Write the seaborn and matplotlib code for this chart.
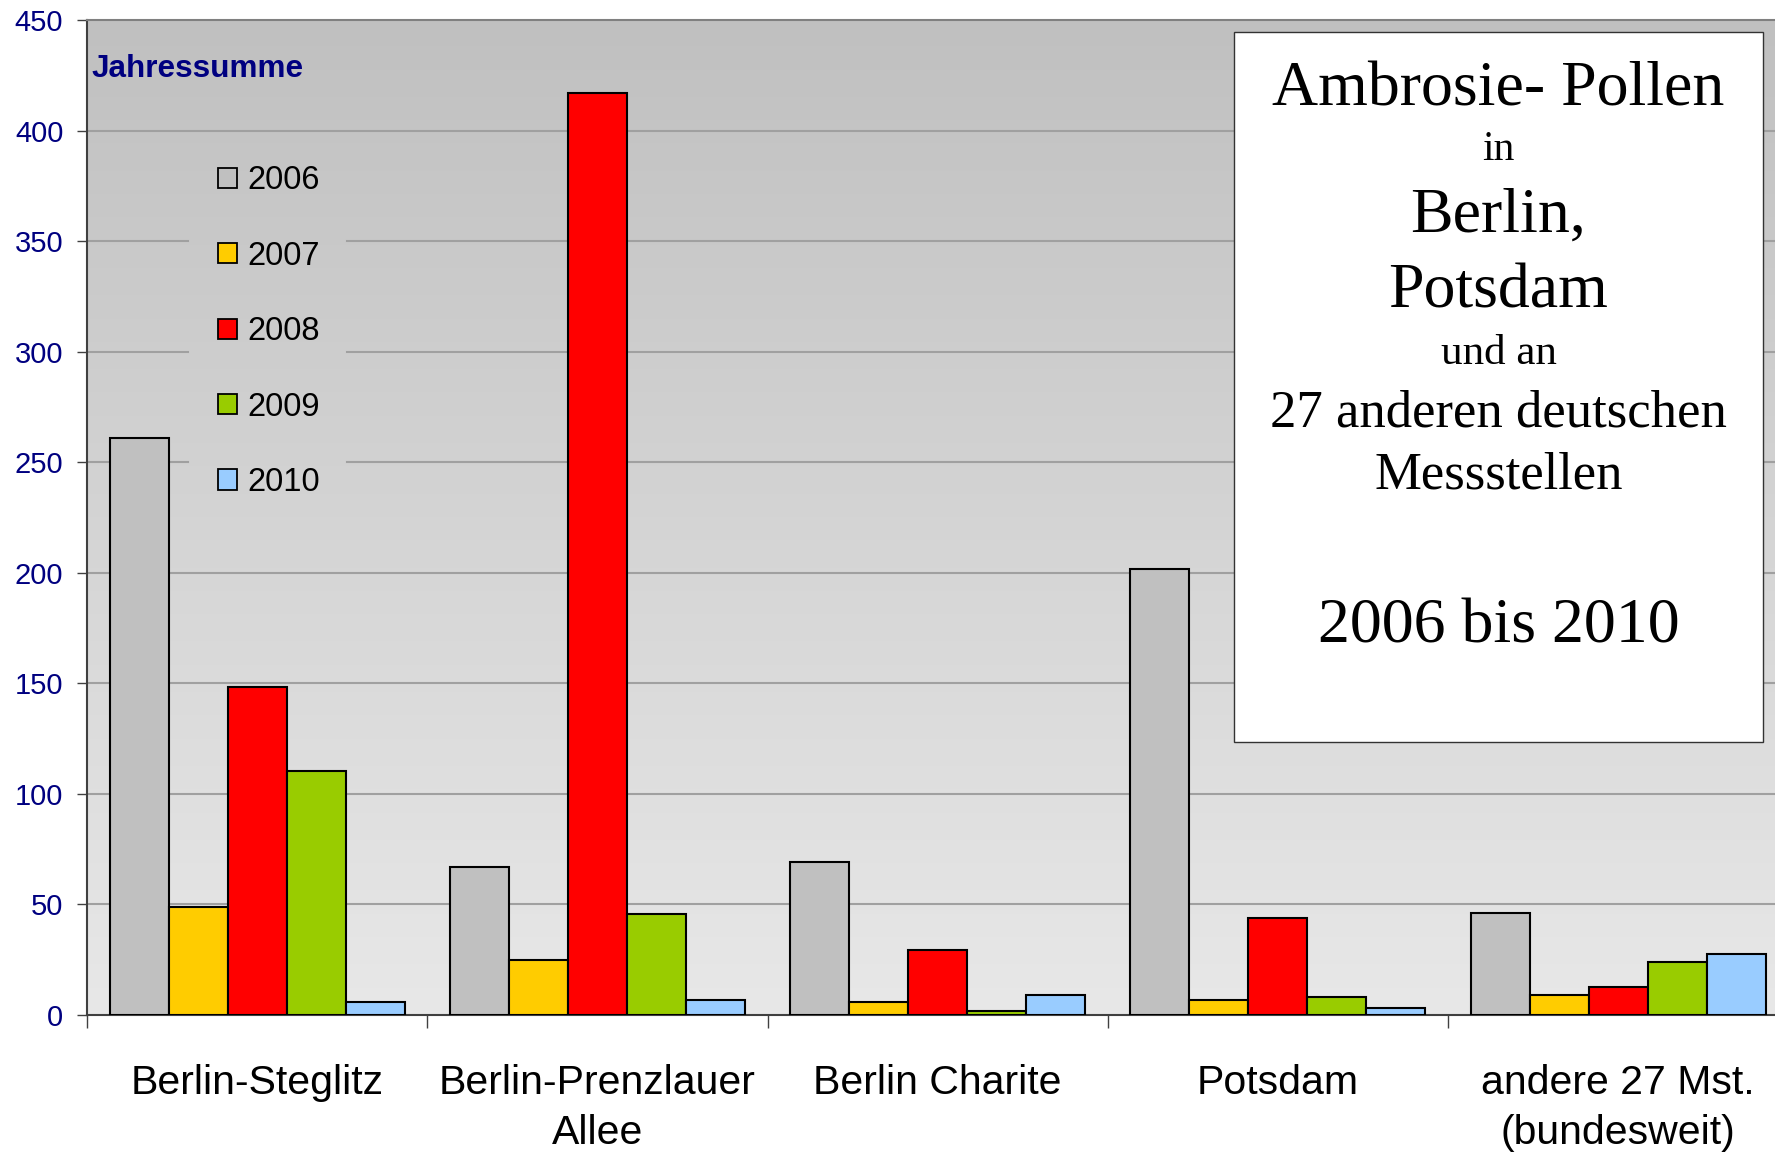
import numpy as np
import pandas as pd
import matplotlib
matplotlib.use("Agg")
import matplotlib.pyplot as plt
import seaborn as sns
from matplotlib.patches import Rectangle, Patch
from matplotlib.colors import LinearSegmentedColormap

# ---------------- data ----------------
stations = ["Berlin-Steglitz", "Berlin-Prenzlauer\nAllee", "Berlin Charite",
            "Potsdam", "andere 27 Mst.\n(bundesweit)"]
years = ["2006", "2007", "2008", "2009", "2010"]
v2006 = [261, 67, 69, 201.5, 46]
v2007 = [49, 25, 6, 7, 9]
v2008 = [148.5, 417, 29.5, 44, 12.5]
v2009 = [110.5, 45.5, 2, 8, 24]
v2010 = [6, 7, 9, 3, 27.5]
colors = ["#C0C0C0", "#FFCC00", "#FF0000", "#99CC00", "#99CCFF"]
yticks = [0, 50, 100, 150, 200, 250, 300, 350, 400, 450]

series = [v2006, v2007, v2008, v2009, v2010]
rows = []
for yr, vals in zip(years, series):
    for st, v in zip(stations, vals):
        rows.append({"station": st, "year": yr, "value": v})
df = pd.DataFrame(rows)

plt.rcParams["font.family"] = ["Liberation Sans", "DejaVu Sans"]

fig = plt.figure(figsize=(17.75, 11.57), dpi=100)
ax = fig.add_axes([0.049, 0.1227, 0.9585, 0.86])

# gradient background
grad = np.linspace(0, 1, 256).reshape(-1, 1)
cmap = LinearSegmentedColormap.from_list("g", ["#C0C0C0", "#E8E8E8"])
ax.imshow(grad, cmap=cmap, extent=[0, 1, 0, 1], transform=ax.transAxes,
          aspect="auto", origin="upper", zorder=0)

sns.barplot(data=df, x="station", y="value", hue="year", order=stations,
            hue_order=years, palette=colors, saturation=1, edgecolor="black",
            linewidth=1.5, width=0.867, ax=ax, legend=False, zorder=3)

ax.set_xlim(-0.5, 4.5)
ax.set_ylim(0, 450)
ax.set_xlabel("")
ax.set_ylabel("")

# gridlines (broken behind the legend)
for y in yticks[1:-1]:
    if y in (250, 300, 350):
        ax.axhline(y, 0, 0.0594, color="#A0A0A0", lw=1.5, zorder=1)
        ax.axhline(y, 0.1529, 1, color="#A0A0A0", lw=1.5, zorder=1)
    else:
        ax.axhline(y, color="#A0A0A0", lw=1.5, zorder=1)

ax.set_yticks(yticks)
ax.tick_params(axis="y", direction="out", length=7, width=1, color="#404040",
               labelcolor="#000080", labelsize=21, pad=10)
ax.set_xticks(np.arange(-0.5, 5, 1), minor=True)
ax.tick_params(axis="x", which="major", length=0, labelsize=29.5, pad=35)
ax.tick_params(axis="x", which="minor", length=9, width=1, color="#404040",
               direction="out")
for lab in ax.get_xticklabels():
    lab.set_linespacing(1.42)

ax.spines["right"].set_visible(False)
ax.spines["top"].set_color("#808080")
ax.spines["top"].set_linewidth(1.5)
for s in ("left", "bottom"):
    ax.spines[s].set_color("#404040")
    ax.spines[s].set_linewidth(1.5)

# legend
handles = [Patch(facecolor=c, edgecolor="black", lw=1.3, label=y)
           for c, y in zip(colors, years)]
ax.legend(handles=handles, loc="upper left", bbox_to_anchor=(0.1228, 0.857),
          bbox_transform=fig.transFigure, frameon=False, fontsize=23.5,
          handlelength=0.58, handleheight=0.58, handletextpad=0.33,
          labelspacing=1.36, borderpad=0, borderaxespad=0)

fig.text(0.0513, 0.9335, "Jahressumme", fontsize=22.7, fontweight="bold",
         color="#000080", va="baseline")

# title box
rect = Rectangle((0.6952, 0.3587), 0.298, 0.6136, transform=fig.transFigure,
                 facecolor="white", edgecolor="#333333", lw=1, zorder=5)
fig.add_artist(rect)
cx = 0.8442
lines = [("Ambrosie- Pollen", 46, 0.909),
         ("in", 30, 0.8614),
         ("Berlin,", 46, 0.7995),
         ("Potsdam", 46, 0.7338),
         ("und an", 31, 0.685),
         ("27 anderen deutschen", 38, 0.631),
         ("Messstellen", 38, 0.5774),
         ("2006 bis 2010", 46, 0.445)]
for txt, size, y in lines:
    fig.text(cx, y, txt, ha="center", va="baseline", fontsize=size,
             family=["Liberation Serif", "DejaVu Serif"], zorder=6)

fig.savefig("out.png", dpi=100)
